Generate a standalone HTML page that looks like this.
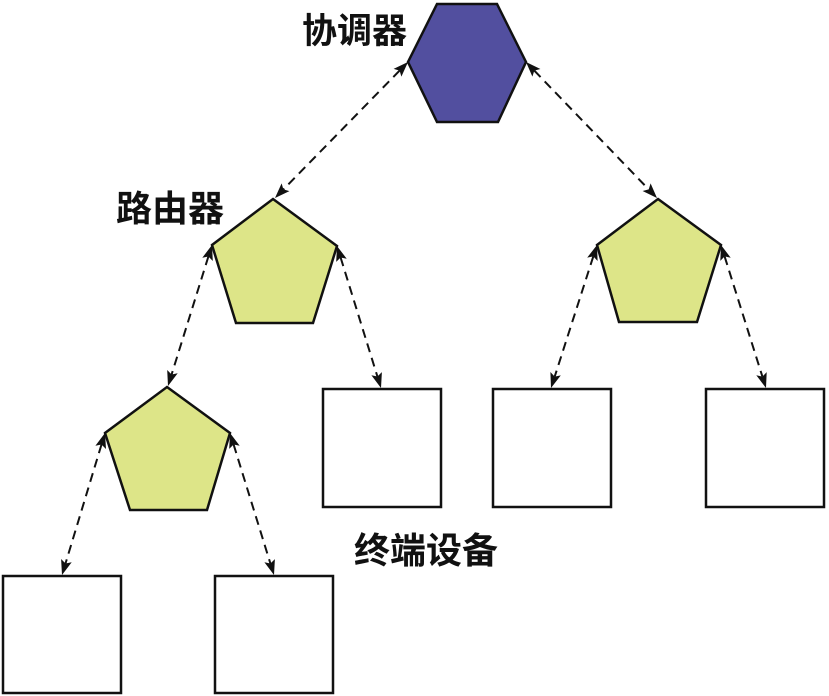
<!DOCTYPE html>
<html>
<head>
<meta charset="utf-8">
<style>
  html,body{margin:0;padding:0;background:#fff;}
  svg{display:block;}
  text{font-family:"Liberation Sans","Noto Sans CJK SC",sans-serif;font-size:35px;fill:#111;font-weight:bold;}
</style>
</head>
<body>
<svg width="829" height="696" viewBox="0 0 829 696" xmlns="http://www.w3.org/2000/svg">
  <!-- connectors -->
  <g stroke="#111" stroke-width="2" stroke-dasharray="9,6" fill="none">
    <line x1="399.6" y1="70.6" x2="283.4" y2="189.4"/>
    <line x1="534.3" y1="70.6" x2="648.7" y2="189.4"/>
    <line x1="208.4" y1="256.5" x2="171.6" y2="374.5"/>
    <line x1="340.6" y1="257.5" x2="377.4" y2="376.5"/>
    <line x1="101.5" y1="444.5" x2="65.5" y2="563.5"/>
    <line x1="233.6" y1="444.5" x2="270.4" y2="563.5"/>
    <line x1="593.3" y1="256.4" x2="554.7" y2="376.6"/>
    <line x1="724.6" y1="256.4" x2="762.4" y2="376.6"/>
  </g>
  <!-- arrowheads -->
  <g fill="#111" stroke="none">
    <polygon points="408,62 401.4,76.6 399.6,70.6 393.6,68.9"/>
    <polygon points="275,198 289.4,191.1 283.4,189.4 281.6,183.4"/>
    <polygon points="526,62 532.4,76.6 534.3,70.6 540.4,69.0"/>
    <polygon points="657,198 642.6,191.0 648.7,189.4 650.6,183.4"/>
    <polygon points="212,245 202.3,257.7 208.4,256.5 212.8,261.0"/>
    <polygon points="168,386 167.2,370.0 171.6,374.5 177.7,373.3"/>
    <polygon points="337,246 336.2,261.9 340.6,257.5 346.7,258.7"/>
    <polygon points="381,388 371.4,375.3 377.4,376.5 381.9,372.1"/>
    <polygon points="105,433 95.4,445.8 101.5,444.5 106.0,449.0"/>
    <polygon points="62,575 61.1,559.0 65.5,563.5 71.7,562.2"/>
    <polygon points="230,433 229.2,448.9 233.6,444.5 239.7,445.7"/>
    <polygon points="274,575 264.4,562.3 270.4,563.5 274.9,559.1"/>
    <polygon points="597,245 587.2,257.6 593.3,256.4 597.6,261.0"/>
    <polygon points="551,388 550.4,372.0 554.7,376.6 560.8,375.4"/>
    <polygon points="721,245 720.3,260.9 724.6,256.4 730.7,257.7"/>
    <polygon points="766,388 756.3,375.3 762.4,376.6 766.7,372.1"/>
  </g>

  <!-- coordinator hexagon -->
  <polygon points="437,4 497,4 526,62 498,122 437,122 408,62" fill="#524f9f" stroke="#111" stroke-width="2.5"/>

  <!-- routers -->
  <polygon points="273,199 337,246 313,323 236,323 212,245" fill="#dde588" stroke="#111" stroke-width="2.5"/>
  <polygon points="167,387 230,433 207,510 130,510 105,433" fill="#dde588" stroke="#111" stroke-width="2.5"/>
  <polygon points="658,199 721,245 697,322 619,322 597,245" fill="#dde588" stroke="#111" stroke-width="2.5"/>

  <!-- end devices -->
  <g fill="#fff" stroke="#111" stroke-width="2.5">
    <rect x="3" y="576" width="118" height="117"/>
    <rect x="215" y="576" width="118" height="117"/>
    <rect x="323" y="389" width="118" height="118"/>
    <rect x="493" y="389" width="118" height="118"/>
    <rect x="706" y="389" width="118" height="118"/>
  </g>

  <!-- labels -->
  <text x="302" y="43">协调器</text>
  <text x="116" y="221" style="font-size:36px">路由器</text>
  <text x="354" y="563" style="font-size:36px">终端设备</text>
</svg>
</body>
</html>
